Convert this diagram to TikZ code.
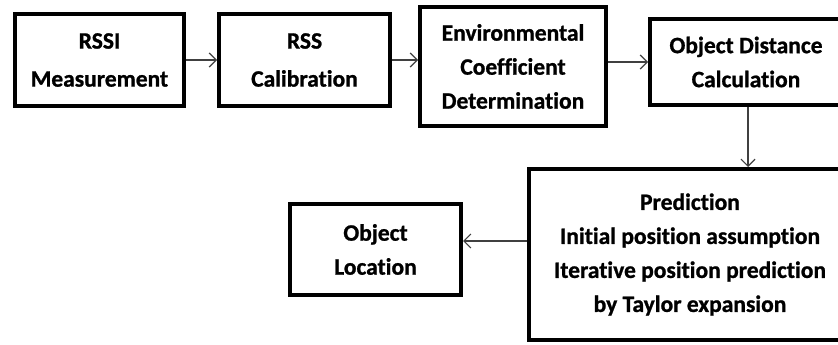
\documentclass[tikz,border=0pt]{standalone}
\usepackage{fontspec}
\setmainfont[Ligatures=NoCommon,BoldFeatures={FakeBold=1}]{Carlito}
\usetikzlibrary{arrows.meta}
\tikzset{
  blk/.style={draw, line width=4pt, align=center, inner sep=0pt, fill=white,
    font=\bfseries\fontsize{23.5}{34}\selectfont},
  wide/.style={font=\bfseries\fontsize{23.5}{38}\selectfont},
  arr/.style={-{Straight Barb[length=7pt,width=14pt,line width=1.2pt]}, line width=1.4pt, draw=black!75}
}
\begin{document}
\begin{tikzpicture}[x=1pt,y=-1pt]
\useasboundingbox (0,0) rectangle (838,345);
\clip (0,0) rectangle (838,345);
\node[blk,wide,minimum width=169pt,minimum height=92pt] (b1) at (99.5,60) {RSSI\\Measurement};
\node[blk,wide,minimum width=171pt,minimum height=92pt] (b2) at (304.5,60) {RSS\\Calibration};
\node[blk,minimum width=186pt,minimum height=119pt] (b3) at (513,66.5) {Environmental\\Coefficient\\Determination};
\node[blk,minimum width=192pt,minimum height=86pt] (b4) at (746,62) {Object Distance\\Calculation};
\node[blk,minimum width=322pt,minimum height=171pt] (b5) at (690,254.5) {Prediction\\Initial position assumption\\Iterative position prediction\\by Taylor expansion};
\node[blk,minimum width=171pt,minimum height=91pt] (b6) at (375.5,249.5) {Object\\Location};
\draw[arr] (b1.east) -- (b2.west);
\draw[arr] (b2.east) -- (b2.east -| b3.west);
\draw[arr] (b3.east |- b4.west) -- (b4.west);
\draw[arr] ([xshift=2pt]b4.south) -- ([xshift=2pt]b4.south |- b5.north);
\draw[arr] (b5.west |- 0,241) -- (b6.east |- 0,241);
\end{tikzpicture}
\end{document}
